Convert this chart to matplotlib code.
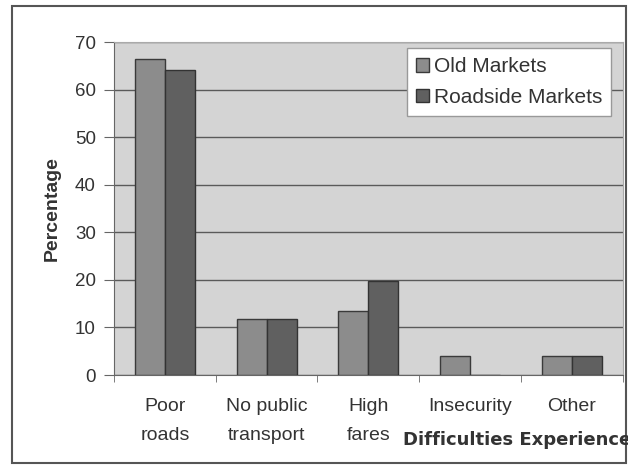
import matplotlib.pyplot as plt
from matplotlib.patches import Rectangle
import numpy as np

plt.rcParams['font.family'] = ['Liberation Sans', 'DejaVu Sans']

categories = ['Poor\nroads', 'No public\ntransport', 'High\nfares', 'Insecurity', 'Other']
old_markets = [66.5, 11.8, 13.5, 4, 4]
roadside_markets = [64.2, 11.8, 19.8, 0, 4]
y_ticks = [0, 10, 20, 30, 40, 50, 60, 70]


def main():
    fig = plt.figure(figsize=(6.28, 4.65), dpi=100)
    fig.patch.set_facecolor('white')

    # outer frame of the chart
    fig.patches.append(Rectangle((12 / 628, 2 / 465), 614 / 628, 457 / 465,
                                 transform=fig.transFigure, fill=False,
                                 edgecolor='#555555', linewidth=1.5))

    ax = fig.add_axes([0.1815, 0.1935, 0.81, 0.716])
    ax.set_facecolor('#d4d4d4')

    x = np.arange(len(categories))
    w = 0.295
    ax.bar(x - w / 2, old_markets, w, color='#8c8c8c', edgecolor='#3a3a3a',
           linewidth=1, label='Old Markets', zorder=3)
    ax.bar(x + w / 2, roadside_markets, w, color='#606060', edgecolor='#333333',
           linewidth=1, label='Roadside Markets', zorder=3)

    ax.set_xlim(-0.5, len(categories) - 0.5)
    ax.set_ylim(0, 70)
    ax.set_yticks(y_ticks)
    ax.tick_params(axis='y', labelsize=13.5, length=7, color='#666666',
                   labelcolor='#333333', pad=6)
    ax.yaxis.grid(True, color='#5a5a5a', linewidth=1, zorder=1)
    ax.set_axisbelow(True)

    ax.set_xticks(x)
    ax.set_xticklabels(categories, fontsize=14, color='#333333', linespacing=1.9)
    ax.set_xticks(np.arange(-0.5, len(categories)), minor=True)
    ax.tick_params(axis='x', which='major', length=0, pad=16.5)
    ax.tick_params(axis='x', which='minor', length=5, color='#666666')

    for side in ['top', 'right']:
        ax.spines[side].set_color('#aaaaaa')
    ax.spines['left'].set_color('#666666')
    ax.spines['bottom'].set_color('#666666')

    ax.set_ylabel('Percentage', fontsize=14, fontweight='bold', color='#333333',
                  labelpad=10)
    # axis title sits beside "High fares" and runs off the right edge
    fig.text(403 / 628, 1 - 445 / 465, 'Difficulties Experienced', fontsize=13,
             fontweight='bold', family='DejaVu Sans', color='#333333',
             va='baseline', ha='left')

    leg = ax.legend(loc='upper right', bbox_to_anchor=(0.978, 0.982),
                    fontsize=15, frameon=True, fancybox=False,
                    handlelength=0.6, handleheight=0.6, handletextpad=0.25,
                    borderpad=0.45, labelspacing=0.55, borderaxespad=0)
    leg.get_frame().set_facecolor('white')
    leg.get_frame().set_edgecolor('#999999')
    leg.get_frame().set_alpha(1)
    for t in leg.get_texts():
        t.set_color('#333333')

    fig.savefig('out.png', dpi=100)


if __name__ == '__main__':
    main()
